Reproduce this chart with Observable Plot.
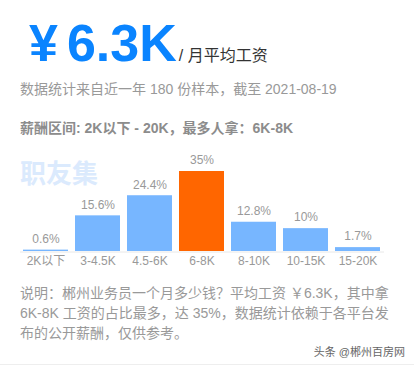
<!DOCTYPE html>
<html>
<head>
<meta charset="utf-8">
<script src="https://cdn.jsdelivr.net/npm/d3@7"></script>
<script src="https://cdn.jsdelivr.net/npm/@observablehq/plot@0.6"></script>
<style>
  html, body { margin: 0; padding: 0; background: #fff; }
  body { width: 414px; height: 366px; position: relative; overflow: hidden;
         font-family: "Liberation Sans", Arial, "Noto Sans CJK SC", sans-serif; }
  .abs { position: absolute; white-space: nowrap; }
  #big { left: 29px; top: 11px; font-size: 52px; font-weight: bold; color: #0a84ff; line-height: 64px; }
  #big .yen { margin-right: 9px; }
  #big .unit { font-size: 16px; font-weight: normal; color: #333; margin-left: 2px; }
  #sub { left: 20px; top: 80px; font-size: 14px; color: #999; line-height: 18px; }
  #range { left: 20px; top: 119px; font-size: 14px; font-weight: bold; color: #8c8c8c; line-height: 18px; }
  #wm { left: 20px; top: 158px; font-size: 26px; font-weight: bold; color: #dbeafd; line-height: 32px; }
  #chart { position: absolute; left: 0; top: 140px; }
  #note { position: absolute; left: 20px; top: 283px; width: 372px; font-size: 14px; color: #999; line-height: 20px; white-space: normal; }
  #src { right: 9px; top: 345px; font-size: 11px; color: #666; line-height: 14px; }
  #bottomline { position: absolute; left: 0; right: 0; top: 364px; height: 1px; background: #eee; }
</style>
</head>
<body>
<div id="big" class="abs"><span class="yen">¥</span>6.3K<span class="unit">/ 月平均工资</span></div>
<div id="sub" class="abs">数据统计来自近一年 180 份样本，截至 2021-08-19</div>
<div id="range" class="abs">薪酬区间: 2K以下 - 20K，最多人拿：6K-8K</div>
<div id="chart"></div>
<div id="wm" class="abs">职友集</div>
<div id="note">说明：郴州业务员一个月多少钱？平均工资 ￥6.3K，其中拿 6K-8K 工资的占比最多，达 35%，数据统计依赖于各平台发布的公开薪酬，仅供参考。</div>
<div id="src" class="abs">头条 @郴州百房网</div>
<div id="bottomline"></div>
<script>
const categories = ["2K以下", "3-4.5K", "4.5-6K", "6-8K", "8-10K", "10-15K", "15-20K"];
const values = [0.6, 15.6, 24.4, 35, 12.8, 10, 1.7];
const labels = ["0.6%", "15.6%", "24.4%", "35%", "12.8%", "10%", "1.7%"];
const highlight = "6-8K";

const data = categories.map((c, i) => ({ cat: c, value: values[i], label: labels[i] }));

const chart = Plot.plot({
  width: 414,
  height: 135,
  marginLeft: 20,
  marginRight: 30,
  marginTop: 31,
  marginBottom: 24,
  style: { fontFamily: '"Liberation Sans", Arial, "Noto Sans CJK SC", sans-serif', fontSize: "12px", color: "#999", background: "transparent" },
  x: { domain: categories, paddingInner: 0.13, paddingOuter: 0, label: null, tickSize: 0, tickPadding: 5 },
  y: { domain: [0, 35], axis: null },
  marks: [
    Plot.ruleY([0], { stroke: "#e8e8e8", strokeWidth: 1, dy: 0.5 }),
    Plot.barY(data, { x: "cat", y: "value", fill: d => d.cat === highlight ? "#ff6600" : "#77b6ff" }),
    Plot.text(data, { x: "cat", y: "value", text: "label", dy: -11, fill: "#999", fontSize: 12 }),
    Plot.axisX({ tickSize: 0, tickPadding: 5, fontSize: 12, fill: "#999", label: null })
  ]
});
document.getElementById("chart").appendChild(chart);
</script>
</body>
</html>
